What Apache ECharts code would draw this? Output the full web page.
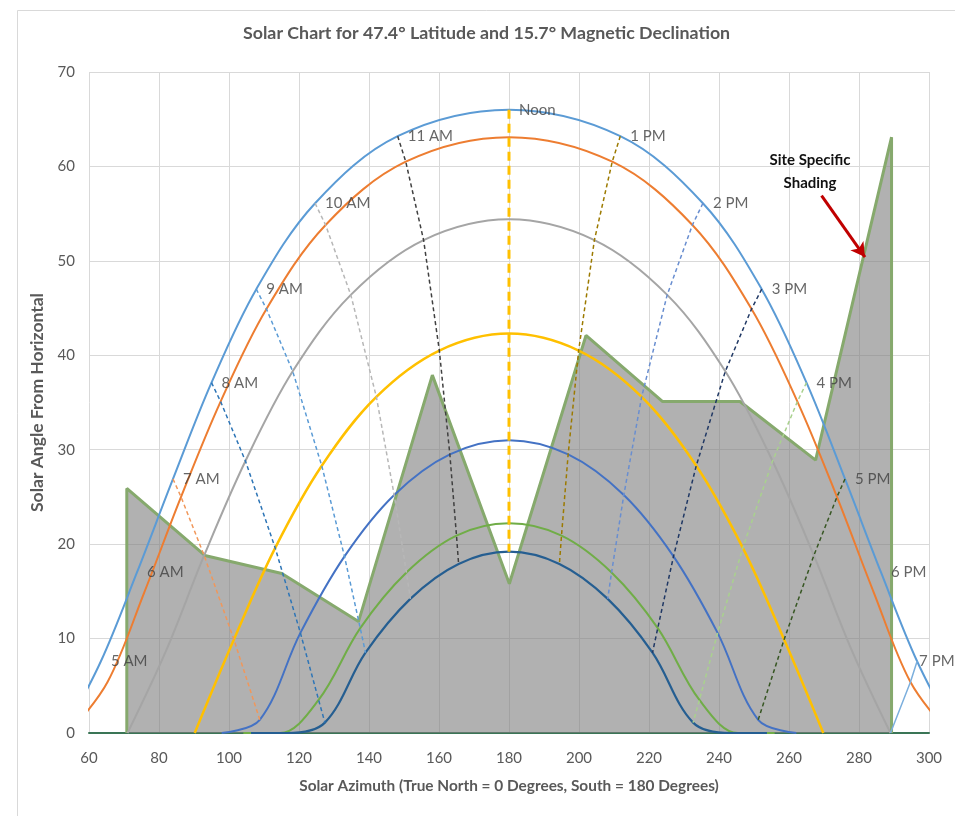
<!DOCTYPE html>
<html>
<head>
<meta charset="utf-8">
<script src="https://cdn.jsdelivr.net/npm/echarts@6/dist/echarts.min.js"></script>
<style>
html,body{margin:0;padding:0;background:#fff;}
#chart{width:955px;height:816px;}
</style>
</head>
<body>
<div id="chart"></div>
<script>
// Hour labels for each index (4 AM ... 8 PM)
const hourNames = ['4 AM','5 AM','6 AM','7 AM','8 AM','9 AM','10 AM','11 AM','Noon','1 PM','2 PM','3 PM','4 PM','5 PM','6 PM','7 PM','8 PM'];

// Sun path points [azimuth, altitude] per hour (null = not plotted)
const junPath = [[52.7,0],[63.4,7.6],[73.7,17.0],[84.0,26.9],[95.0,37.1],[107.8,47.0],[124.6,56.1],[148.2,63.2],[180,66.0],[211.8,63.2],[235.4,56.1],[252.2,47.0],[265.0,37.1],[276.0,26.9],[286.3,17.0],[296.6,7.6],[307.3,0]];
const mayPath = [[54.4,0],[65.3,5.4],[75.8,14.9],[86.3,25.0],[97.6,35.1],[110.7,44.9],[127.6,53.8],[150.5,60.5],[180,63.1],[209.5,60.5],[232.4,53.8],[249.3,44.9],[262.4,35.1],[273.7,25.0],[284.2,14.9],[294.7,5.4],[305.6,0]];
const aprPath = [null,[71.0,0],[82.0,8.7],[92.9,18.8],[104.7,28.8],[118.2,38.3],[134.8,46.4],[155.6,52.2],[180,54.4],[204.4,52.2],[225.2,46.4],[241.8,38.3],[255.3,28.8],[267.1,18.8],[278.0,8.7],[289.0,0],null];
const marPath = [null,null,[90.2,0],[101.4,9.9],[113.2,19.6],[126.5,28.3],[142.1,35.6],[160.1,40.5],[180,42.3],[199.9,40.5],[217.9,35.6],[233.5,28.3],[246.8,19.6],[258.6,9.9],[269.8,0],null,null];
const febPath = [null,null,[97.9,0],[108.8,1.4],[120.4,10.6],[133.0,18.7],[147.2,25.2],[163.1,29.5],[180,31.0],[196.9,29.5],[212.8,25.2],[227.0,18.7],[239.6,10.6],[251.2,1.4],[262.1,0],null,null];
const janPath = [null,null,[104.1,0],[114.6,0],[125.6,3.5],[137.5,11.1],[150.7,17.0],[165.0,20.9],[180,22.2],[195.0,20.9],[209.3,17.0],[222.5,11.1],[234.4,3.5],[245.4,0],[255.9,0],null,null];
const decPath = [null,null,[106.3,0],[116.6,0],[127.4,1.1],[139.0,8.5],[151.8,14.2],[165.6,17.9],[180,19.2],[194.4,17.9],[208.2,14.2],[221.0,8.5],[232.6,1.1],[243.4,0],[253.7,0],null,null];

// Site specific shading outline
const shadeAz  = [70.8, 70.8, 93.1, 115.1, 137.0, 158.1, 180.1, 202.0, 223.9, 246.0, 267.6, 289.3, 289.3];
const shadeAlt = [0,    25.9, 18.8, 16.9,  11.8,  37.9,  15.8,  42.1,  35.1,  35.1,  28.9,  63.1,  0];

// Axis ticks
const xTicks = {min:60, max:300, step:20};
const yTicks = {min:0, max:70, step:10};

// Hour lines: which hour index, how many paths (from June downward)
const hourLineIdx   = [3, 4, 5, 6, 7, 8, 9, 10, 11, 12, 13, 15];
const hourLineDepth = [5, 7, 7, 7, 7, 7, 7, 7, 7, 7, 5, 3];
const labelIdx = [1,2,3,4,5,6,7,8,9,10,11,12,13,14,15];

const paths = [junPath, mayPath, aprPath, marPath, febPath, janPath, decPath];
const pathColors = ['#5B9BD5','#ED7D31','#A5A5A5','#FFC000','#4472C4','#70AD47','#255E91'];
const pathWidths = [2, 2, 2, 2.5, 2, 2, 2.2];
const hourColors = {3:'#F1975A',4:'#2E75B6',5:'#5B9BD5',6:'#B7B7B7',7:'#404040',8:'#FFC000',9:'#9C7A00',10:'#698ED0',11:'#203864',12:'#A9D18E',13:'#375623',15:'#7CAFDD'};

const FONT = 'Lato, "Open Sans", sans-serif';
const series = [];

series.push({
  type:'line', name:'Shading', z:2,
  data: shadeAz.map((x,i)=>[x, shadeAlt[i]]),
  symbol:'none', smooth:false,
  lineStyle:{color:'#86A96D', width:3},
  areaStyle:{color:'rgba(125,125,125,0.6)', opacity:1, origin:'start'},
  markPoint:{
    silent:true,
    symbol:'rect', symbolSize:1, itemStyle:{color:'rgba(0,0,0,0)'},
    data:[{coord:[266,59.4], label:{show:true, position:'inside', formatter:'Site Specific\nShading', color:'#111', fontFamily:FONT, fontWeight:'bold', fontSize:15, lineHeight:23, align:'center'}}]
  },
  markLine:{
    silent:true, symbol:['none','arrow'], symbolSize:[12,14],
    lineStyle:{color:'#C00000', width:3, type:'solid'},
    label:{show:false},
    data:[[{coord:[269.3,56.9]},{coord:[281.7,50.4]}]]
  }
});

paths.forEach((p,i)=>{
  series.push({
    type:'line', z:3, smooth:0.35, symbol:'none',
    data: p.filter(v=>v),
    lineStyle:{color:pathColors[i], width:pathWidths[i]}
  });
});

hourLineIdx.forEach((h,k)=>{
  const pts = paths.slice(0, hourLineDepth[k]).map(p=>p[h]).filter(v=>v);
  const isNoon = h===8;
  const isSolid = h===15;
  series.push({
    type:'line', z:4, smooth:false, symbol:'none',
    data: pts,
    lineStyle:{color:hourColors[h], width: isNoon?3:1.5, type: isSolid?'solid':(isNoon?[9,5]:[4,3])}
  });
});

series.push({
  type:'scatter', z:6, symbolSize:0,
  data: labelIdx.map(i=>{
    const item = {name:hourNames[i], value:junPath[i]};
    if (i === 15) item.label = {distance:2};
    return item;
  }),
  label:{show:true, position:'right', distance:10, formatter:'{b}', color:'#404040', fontFamily:FONT, fontSize:15}
});

const chart = echarts.init(document.getElementById('chart'));
chart.setOption({
  animation:false,
  backgroundColor:'#fff',
  title:{
    text:'Solar Chart for 47.4° Latitude and 15.7° Magnetic Declination',
    left:243, top:24, padding:0,
    textStyle:{fontFamily:FONT, fontSize:17.8, fontWeight:'bold', color:'#595959'}
  },
  graphic:[{type:'rect', left:15, top:8, shape:{width:1000, height:1000}, style:{fill:'none', stroke:'#D9D9D9', lineWidth:1}, silent:true, z:-1}],
  grid:{left:89, right:26, top:72, bottom:83, containLabel:false},
  xAxis:{
    type:'value', min:xTicks.min, max:xTicks.max, interval:xTicks.step,
    name:'Solar Azimuth (True North = 0 Degrees, South = 180 Degrees)',
    nameLocation:'middle', nameGap:46,
    nameTextStyle:{fontFamily:FONT, fontSize:15.4, fontWeight:'bold', color:'#595959'},
    axisLine:{show:true, onZero:false, lineStyle:{color:'#3A7556', width:2}},
    axisTick:{show:false},
    axisLabel:{color:'#595959', fontFamily:FONT, fontSize:15, margin:18},
    splitLine:{show:true, lineStyle:{color:'#D9D9D9', width:1}}
  },
  yAxis:{
    type:'value', min:yTicks.min, max:yTicks.max, interval:yTicks.step,
    name:'Solar Angle From Horizontal',
    nameLocation:'middle', nameGap:34, nameRotate:90,
    nameTextStyle:{fontFamily:FONT, fontSize:17.5, fontWeight:'bold', color:'#595959'},
    axisLine:{show:false}, axisTick:{show:false},
    axisLabel:{color:'#595959', fontFamily:FONT, fontSize:15, margin:14},
    splitLine:{show:true, lineStyle:{color:'#D9D9D9', width:1}}
  },
  series: series
});
</script>
</body>
</html>
